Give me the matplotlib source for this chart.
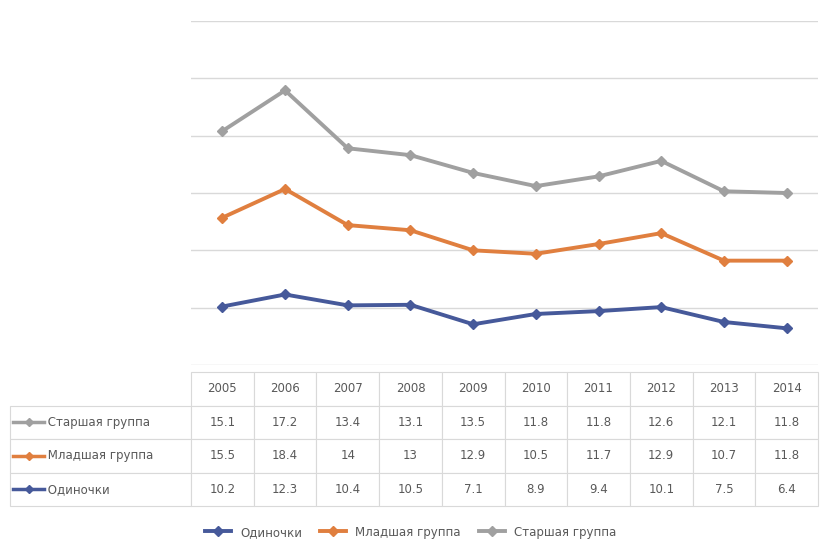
import matplotlib.pyplot as plt
from matplotlib.lines import Line2D
import numpy as np

plt.rcParams['font.family'] = ['DejaVu Sans']

years = ['2005', '2006', '2007', '2008', '2009', '2010', '2011', '2012', '2013', '2014']
names = ['Одиночки', 'Младшая группа', 'Старшая группа']
blue_vals = [10.2, 12.3, 10.4, 10.5, 7.1, 8.9, 9.4, 10.1, 7.5, 6.4]
orange_vals = [15.5, 18.4, 14.0, 13.0, 12.9, 10.5, 11.7, 12.9, 10.7, 11.8]
gray_vals = [15.1, 17.2, 13.4, 13.1, 13.5, 11.8, 11.8, 12.6, 12.1, 11.8]
colors = ['#46599A', '#E07F3F', '#A0A0A0']

series = [blue_vals, orange_vals, gray_vals]

fig = plt.figure(figsize=(8.21, 5.52), dpi=100)
# plot area: 191..818 px wide, 21..365 px high
ax = fig.add_axes([191 / 821, 1 - 365 / 552, 627 / 821, 344 / 552])

# stacked lines
x = np.arange(len(years))
cum = np.zeros(len(years))
for vals, name, c in zip(series, names, colors):
    cum = cum + np.array(vals)
    ax.plot(x, cum, color=c, lw=2.8, marker='D', ms=5, label=name, zorder=3)

ax.set_xlim(-0.5, len(years) - 0.5)
ax.set_ylim(0, 60)
ax.set_yticks(range(0, 61, 10))
ax.yaxis.grid(True, color='#D9D9D9', lw=1)
ax.set_axisbelow(True)
ax.tick_params(left=False, bottom=False, labelleft=False, labelbottom=False)
for s in ax.spines.values():
    s.set_visible(False)

# data table under the plot
lab_w = 181 / 627
rows = [gray_vals, orange_vals, blue_vals]
row_names = [names[2], names[1], names[0]]
row_cols = [colors[2], colors[1], colors[0]]
cell_text = [[''] + years]
for nm, r in zip(row_names, rows):
    cell_text.append(['         ' + nm] + [f'{v:g}' for v in r])

tb_top = -7 / 344
tb_h = 134 / 344
tbl = ax.table(cellText=cell_text, colWidths=[lab_w] + [0.1] * len(years),
               cellLoc='center', bbox=[-lab_w, tb_top - tb_h, 1 + lab_w, tb_h])
tbl.auto_set_font_size(False)
for (r, c), cell in tbl.get_celld().items():
    cell.set_edgecolor('#D9D9D9')
    cell.set_linewidth(0.8)
    cell.get_text().set_fontsize(8.5)
    cell.get_text().set_color('#595959')
    if c == 0:
        cell.get_text().set_ha('left')
        cell._loc = 'left'
        cell.PAD = 0.02
    if r == 0 and c == 0:
        cell.visible_edges = ''

# legend keys in the row label cells
row_h = tb_h / 4
for i, c in enumerate(row_cols):
    yk = tb_top - row_h * (i + 1.5)
    x0 = -lab_w + 0.005
    ax.add_line(Line2D([x0, x0 + 0.025, x0 + 0.05], [yk, yk, yk], color=c, lw=2.5,
                       marker='D', ms=4.5, markevery=[1], transform=ax.transAxes, clip_on=False))

fig.legend(loc='lower center', bbox_to_anchor=(0.5, 0.005), ncol=3, frameon=False,
           fontsize=8.5, labelcolor='#595959', handlelength=2.2, columnspacing=1.5)

fig.savefig('out.png', dpi=100)
